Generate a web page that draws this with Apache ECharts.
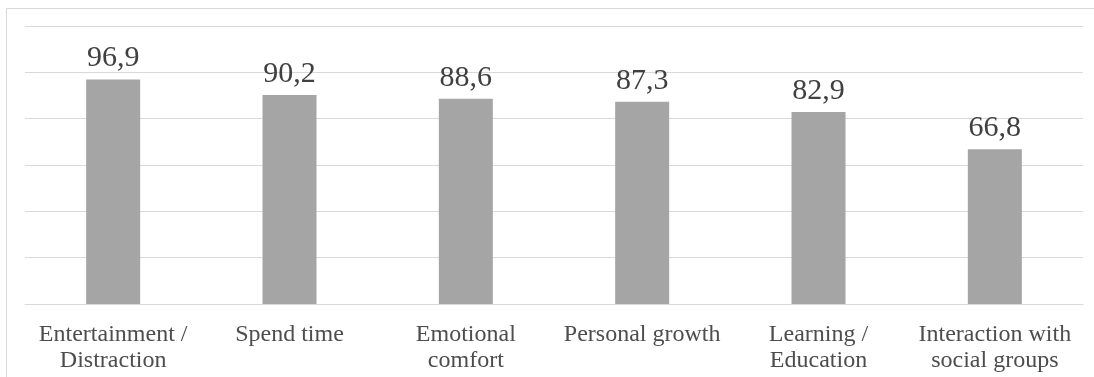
<!DOCTYPE html>
<html>
<head>
<meta charset="utf-8">
<script src="https://cdn.jsdelivr.net/npm/echarts@6/dist/echarts.min.js"></script>
<style>
html,body{margin:0;padding:0;background:#fff;}
#main{width:1094px;height:377px;}
</style>
</head>
<body>
<div id="main"></div>
<script>
const categories = ["Entertainment /\nDistraction", "Spend time", "Emotional\ncomfort", "Personal growth", "Learning /\nEducation", "Interaction with\nsocial groups"];
const values = [96.9, 90.2, 88.6, 87.3, 82.9, 66.8];

const chart = echarts.init(document.getElementById('main'));
chart.setOption({
  animation: false,
  backgroundColor: '#fff',
  graphic: [{
    type: 'rect', left: 6, top: 8, z: -1,
    shape: { width: 1100, height: 400 },
    style: { fill: '#fff', stroke: '#d9d9d9', lineWidth: 1 }
  }],
  grid: { left: 25, right: 11, top: 26, bottom: 73 },
  xAxis: {
    type: 'category',
    data: categories,
    axisLine: { lineStyle: { color: '#d9d9d9', width: 1 } },
    axisTick: { show: false },
    axisLabel: {
      interval: 0,
      fontFamily: 'Liberation Serif',
      fontSize: 24,
      lineHeight: 26,
      color: '#4d4d4d',
      margin: 18
    }
  },
  yAxis: {
    type: 'value',
    min: 0, max: 120, interval: 20,
    axisLabel: { show: false },
    axisLine: { show: false },
    axisTick: { show: false },
    splitLine: { lineStyle: { color: '#d9d9d9', width: 1 } }
  },
  series: [{
    type: 'bar',
    data: values,
    barWidth: 54,
    itemStyle: { color: '#a5a5a5' },
    label: {
      show: true,
      position: 'top',
      distance: 6,
      fontFamily: 'Liberation Serif',
      fontSize: 30,
      color: '#404040',
      formatter: p => String(p.value).replace('.', ',')
    }
  }]
});
</script>
</body>
</html>
